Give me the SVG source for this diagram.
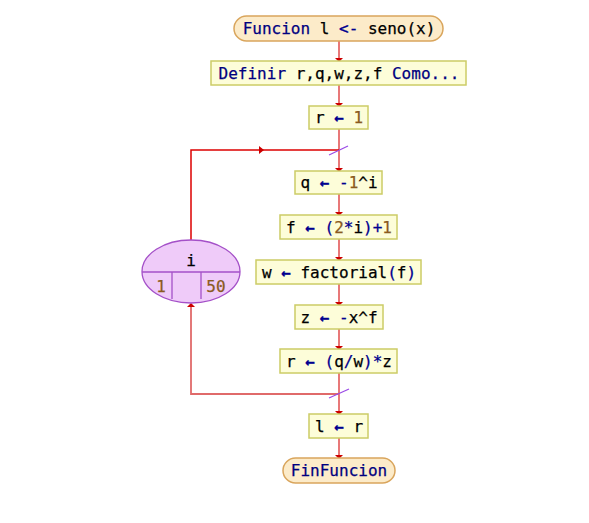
<svg xmlns="http://www.w3.org/2000/svg" width="589" height="523" viewBox="0 0 589 523">
  <style>
    text { font-family: "DejaVu Sans Mono", "Liberation Mono", monospace; font-size: 16px; fill: #000000; stroke: #000000; stroke-width: 0.25; }
    .kw { fill: #000080; stroke: #000080; }
    .op { fill: #000090; stroke: #000090; }
    .arr { fill: #000090; stroke: #000090; font-weight: bold; }
    .num { fill: #8a5a20; stroke: #8a5a20; }
    .box { fill: #fdfdd9; stroke: #cccc66; stroke-width: 1.5; }
    .term { fill: #fcebc9; stroke: #d9a55c; stroke-width: 1.5; }
    .flow { stroke: #e87878; stroke-width: 2; fill: none; }
    .loop { stroke: #dd0000; stroke-width: 1.5; fill: none; }
    .back { stroke: #e06a6a; stroke-width: 1.8; fill: none; }
    .tick { stroke: #9a4ae6; stroke-width: 1.2; }
    .head { fill: #cc0000; }
    .ell { fill: #efcbf9; stroke: #a450c8; stroke-width: 1.3; }
    .div { stroke: #a450c8; stroke-width: 1.3; }
  </style>

  <!-- connectors -->
  <g id="connectors">
    <line class="flow" x1="339" y1="41" x2="339" y2="58"/>
    <polygon class="head" points="335,58 343,58 339,62"/>
    <line class="flow" x1="339" y1="85" x2="339" y2="103"/>
    <polygon class="head" points="335,103 343,103 339,107"/>
    <line class="flow" x1="339" y1="129" x2="339" y2="168"/>
    <polygon class="head" points="335,168 343,168 339,172"/>
    <line class="flow" x1="339" y1="194" x2="339" y2="212"/>
    <polygon class="head" points="335,212 343,212 339,216"/>
    <line class="flow" x1="339" y1="239" x2="339" y2="257"/>
    <polygon class="head" points="335,257 343,257 339,261"/>
    <line class="flow" x1="339" y1="284" x2="339" y2="302"/>
    <polygon class="head" points="335,302 343,302 339,306"/>
    <line class="flow" x1="339" y1="329" x2="339" y2="346"/>
    <polygon class="head" points="335,346 343,346 339,350"/>
    <line class="flow" x1="339" y1="373" x2="339" y2="411"/>
    <polygon class="head" points="335,411 343,411 339,415"/>
    <line class="flow" x1="339" y1="438" x2="339" y2="455"/>
    <polygon class="head" points="335,455 343,455 339,459"/>

    <!-- loop entry -->
    <polyline class="loop" points="191,240 191,150 339,150"/>
    <polygon class="head" points="259,146 259,154 264,150"/>
    <line class="tick" x1="329" y1="155" x2="348" y2="146"/>

    <!-- loop return -->
    <polyline class="back" points="339,394 191,394 191,306"/>
    <polygon class="head" points="187,307 195,307 191,303"/>
    <line class="tick" x1="329" y1="398" x2="349" y2="389"/>
  </g>

  <g id="start">
    <rect class="term" x="234" y="16" width="209" height="25" rx="12.5"/>
    <text x="339" y="34" text-anchor="middle"><tspan class="kw">Funcion</tspan> l <tspan class="op">&lt;-</tspan> seno(x)</text>
  </g>

  <g id="definir">
    <rect class="box" x="211" y="61" width="255" height="24"/>
    <text x="339" y="79" text-anchor="middle"><tspan class="kw">Definir</tspan> r,q,w,z,f <tspan class="kw">Como...</tspan></text>
  </g>

  <g id="assign-r1">
    <rect class="box" x="309" y="106" width="59" height="23"/>
    <text x="339" y="123" text-anchor="middle">r <tspan class="arr">←</tspan> <tspan class="num">1</tspan></text>
  </g>

  <g id="for-i">
    <ellipse class="ell" cx="191" cy="271.5" rx="49" ry="31.5"/>
    <line class="div" x1="142" y1="272" x2="240" y2="272"/>
    <line class="div" x1="172" y1="272" x2="172" y2="299"/>
    <line class="div" x1="201" y1="272" x2="201" y2="299"/>
    <text x="191" y="266" text-anchor="middle">i</text>
    <text class="num" x="161" y="292" text-anchor="middle">1</text>
    <text class="num" x="216" y="292" text-anchor="middle">50</text>
  </g>

  <g id="assign-q">
    <rect class="box" x="295" y="171" width="87" height="23"/>
    <text x="339" y="188" text-anchor="middle">q <tspan class="arr">←</tspan> <tspan class="op">-</tspan><tspan class="num">1</tspan>^i</text>
  </g>

  <g id="assign-f">
    <rect class="box" x="280" y="215" width="117" height="24"/>
    <text x="339" y="233" text-anchor="middle">f <tspan class="arr">←</tspan> <tspan class="op">(</tspan><tspan class="num">2</tspan><tspan class="op">*</tspan>i<tspan class="op">)+</tspan><tspan class="num">1</tspan></text>
  </g>

  <g id="assign-w">
    <rect class="box" x="256" y="260" width="165" height="24"/>
    <text x="339" y="278" text-anchor="middle">w <tspan class="arr">←</tspan> factorial<tspan class="op">(</tspan>f<tspan class="op">)</tspan></text>
  </g>

  <g id="assign-z">
    <rect class="box" x="295" y="305" width="88" height="24"/>
    <text x="339" y="323" text-anchor="middle">z <tspan class="arr">←</tspan> <tspan class="op">-</tspan>x^f</text>
  </g>

  <g id="assign-r2">
    <rect class="box" x="280" y="349" width="117" height="24"/>
    <text x="339" y="367" text-anchor="middle">r <tspan class="arr">←</tspan> <tspan class="op">(</tspan>q<tspan class="op">/</tspan>w<tspan class="op">)*</tspan>z</text>
  </g>

  <g id="assign-l">
    <rect class="box" x="309" y="414" width="59" height="24"/>
    <text x="339" y="432" text-anchor="middle">l <tspan class="arr">←</tspan> r</text>
  </g>

  <g id="end">
    <rect class="term" x="283" y="458" width="112" height="25" rx="12.5"/>
    <text class="kw" x="339" y="476" text-anchor="middle">FinFuncion</text>
  </g>
</svg>
